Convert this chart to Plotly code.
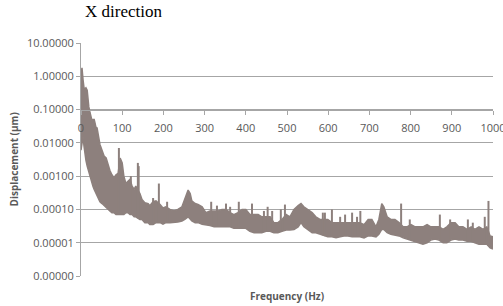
import numpy as np
import plotly.graph_objects as go

# Frequency grid (Hz) with upper / lower edges of the displacement band (µm)
freq = [0, 2.4, 4.9, 7.3, 9.7, 12, 15, 17, 19, 22, 24, 27, 29, 32, 34, 36, 39, 41, 44, 46,
        51, 56, 61, 66, 70, 75, 80, 85, 90, 95, 100, 104, 109, 114, 119, 124, 129, 133, 143, 148,
        155, 163, 167, 175, 182, 192, 199, 206, 216, 226, 235, 245, 252, 260, 265, 269, 277, 284,
        294, 303, 313, 323, 333, 342, 352, 362, 371, 381, 391, 400, 410, 420, 430, 439, 449, 459,
        468, 478, 488, 498, 507, 517, 527, 534, 541, 551, 561, 570, 580, 590, 599, 609, 619, 629,
        638, 648, 658, 667, 677, 687, 697, 706, 716, 723, 730, 735, 743, 752, 762, 772, 782, 791,
        801, 811, 820, 830, 840, 849, 859, 869, 879, 888, 898, 908, 917, 927, 937, 947, 956, 966,
        976, 985, 993, 1000]
upper = [1.2, 1.8, 0.8, 0.45, 0.42, 0.45, 0.38, 0.15, 0.12, 0.08, 0.06, 0.045, 0.05, 0.05, 0.04,
         0.03, 0.028, 0.02, 0.014, 0.009, 0.006, 0.004, 0.0035, 0.002, 0.0015, 0.0011, 0.0009,
         0.0011, 0.0012, 0.0035, 0.0025, 0.001, 0.0006, 0.0007, 0.0008, 0.0005, 0.0004, 0.0005,
         0.0003, 0.0002, 0.00016, 0.00015, 0.00013, 0.00017, 0.00018, 0.00014, 0.00011, 0.00012,
         0.0001, 0.00009, 0.0001, 0.00012, 0.0002, 0.00038, 0.0003, 0.00018, 0.00015, 0.00014,
         0.00012, 0.00008, 0.00009, 0.00009, 0.00009, 0.0001, 0.0001, 0.00008, 0.00007, 0.00008,
         0.0001, 0.0001, 0.00007, 0.00007, 0.00007, 0.00006, 0.00006, 0.00006, 0.00004, 0.00004,
         0.00005, 0.00007, 0.00006, 0.0001, 0.00013, 0.00015, 0.00012, 0.0001, 0.00008, 0.00006,
         0.00005, 0.00005, 0.00005, 0.00004, 0.00004, 0.00004, 0.00004, 0.00004, 0.00004, 0.00004,
         0.00004, 0.000035, 0.00005, 0.00005, 0.00003, 0.00005, 0.00015, 0.00012, 0.00006, 0.00005,
         0.00005, 0.00004, 0.00003, 0.00003, 0.000035, 0.00003, 0.00003, 0.00003, 0.000035, 0.00003,
         0.00003, 0.00003, 0.000025, 0.00003, 0.00004, 0.00004, 0.00003, 0.00003, 0.000025, 0.00003,
         0.000025, 0.00003, 0.000025, 0.00003, 0.000016, 0.000015]
lower = [0.006, 0.012, 0.015, 0.008, 0.004, 0.003, 0.002, 0.0016, 0.0013, 0.001, 0.0008, 0.0006,
         0.0005, 0.0004, 0.00035, 0.0003, 0.00026, 0.00023, 0.0002, 0.00017, 0.00015, 0.00013,
         0.00011, 0.0001, 0.00009, 0.00008, 0.00008, 0.00007, 0.00007, 0.00007, 0.00007, 0.00007,
         0.00008, 0.00008, 0.00007, 0.00007, 0.00006, 0.00006, 0.00005, 0.00005, 0.00004, 0.00004,
         0.000035, 0.000035, 0.00004, 0.00004, 0.000036, 0.00004, 0.00004, 0.00004, 0.000042,
         0.000045, 0.00005, 0.00006, 0.00005, 0.000045, 0.00004, 0.00004, 0.000036, 0.000035,
         0.000033, 0.00003, 0.00003, 0.00003, 0.00003, 0.00003, 0.000027, 0.000027, 0.000028,
         0.000027, 0.000022, 0.00002, 0.00002, 0.00002, 0.000022, 0.000022, 0.00002, 0.00002,
         0.000022, 0.000024, 0.000024, 0.000025, 0.00003, 0.00004, 0.00003, 0.000025, 0.00002,
         0.00002, 0.000018, 0.000016, 0.000015, 0.000015, 0.000014, 0.000015, 0.000016, 0.000016,
         0.000015, 0.000015, 0.000015, 0.000014, 0.000016, 0.000016, 0.000015, 0.000018, 0.000025,
         0.000025, 0.00002, 0.000018, 0.000017, 0.000016, 0.000014, 0.000013, 0.000012, 0.000011,
         0.00001, 0.000009, 0.00001, 0.000012, 0.000013, 0.000012, 0.00001, 0.00001, 0.000012,
         0.000013, 0.000012, 0.000012, 0.000011, 0.000011, 0.00001, 0.000009, 0.000009, 0.000009,
         0.000007, 0.0000065]

# Narrow peaks standing out of the band (Hz, µm)
spike_freq = [92, 121, 138, 140, 175, 189, 209, 316, 330, 352, 362, 383, 415, 444, 453, 464,
              485, 495, 587, 592, 609, 629, 641, 658, 670, 678, 777, 798, 871, 896, 939, 951,
              980, 989]
spike_peak = [0.007, 0.001, 0.0025, 0.002, 0.00022, 0.0006, 0.00017, 0.00017, 0.00013, 0.00015,
              0.00012, 0.00017, 0.00015, 0.00009, 0.00012, 0.00009, 0.0001, 0.00014, 0.00008,
              0.00008, 0.0001, 0.00006, 0.00007, 0.00008, 0.00006, 0.00009, 0.00015, 0.00005,
              0.00007, 0.00005, 0.00005, 0.00004, 0.00006, 0.00018]

y_tickvals = [1e-6, 1e-5, 1e-4, 1e-3, 1e-2, 1e-1, 1, 10]
y_ticktext = ["0.00000", "0.00001", "0.00010", "0.00100", "0.01000", "0.10000", "1.00000", "10.00000"]
x_tickvals = list(range(0, 1001, 100))

COLOR = "#8d807d"
AXIS = "#a6a6a6"
TXT = "#595959"

# spike base = lower band edge at that frequency
base = np.exp(np.interp(spike_freq, freq, np.log(lower)))
sx, sy = [], []
for f, b, p in zip(spike_freq, base, spike_peak):
    sx += [f, f, None]
    sy += [b, p, None]

fig = go.Figure()
fig.add_trace(go.Scatter(x=freq, y=lower, mode="lines", line=dict(color=COLOR, width=1.5),
                         hoverinfo="skip", showlegend=False))
fig.add_trace(go.Scatter(x=freq, y=upper, mode="lines", line=dict(color=COLOR, width=1.5),
                         fill="tonexty", fillcolor=COLOR, showlegend=False))
fig.add_trace(go.Scatter(x=sx, y=sy, mode="lines", line=dict(color=COLOR, width=2),
                         showlegend=False))

fig.update_layout(
    template="none",
    width=503, height=306,
    margin=dict(l=81, r=10, t=43, b=30, pad=0),
    paper_bgcolor="white", plot_bgcolor="white",
    font=dict(family="Open Sans", color=TXT),
    xaxis=dict(range=[0, 1000], showgrid=False, zeroline=False, showline=True,
               linecolor=AXIS, linewidth=1, ticks="outside", ticklen=4, tickcolor=AXIS,
               tickvals=x_tickvals, tickfont=dict(family="Open Sans", size=11, color=TXT),
               anchor="free", position=5 / 7, ticklabelstandoff=4,
               ticklabeloverflow="allow"),
    yaxis=dict(type="log", range=[-6, 1], tickvals=y_tickvals, ticktext=y_ticktext,
               showgrid=True, gridcolor=AXIS, gridwidth=1, zeroline=False, showline=True,
               linecolor=AXIS, linewidth=1, ticks="outside", ticklen=4, tickcolor=AXIS,
               tickfont=dict(family="Open Sans", size=11, color=TXT)),
    annotations=[
        dict(text="X direction", xref="paper", yref="paper", x=0.005, y=1.135,
             xanchor="left", yanchor="middle", showarrow=False,
             font=dict(family="Liberation Serif", size=17, color="#000000")),
        dict(text="<b>Displacement (µm)</b>", xref="paper", yref="paper", x=-0.165, y=0.5,
             xanchor="center", yanchor="middle", textangle=-90, showarrow=False,
             font=dict(size=10, color=TXT)),
        dict(text="<b>Frequency (Hz)</b>", xref="paper", yref="paper", x=0.5, y=-0.085,
             xanchor="center", yanchor="middle", showarrow=False,
             font=dict(size=10, color=TXT)),
    ],
)

# remove the default page margin so the figure sits at the window's top-left corner
fig.write_html("out.html", config={"displayModeBar": False, "staticPlot": True},
               post_script="document.body.style.margin='0';document.body.style.overflow='hidden';")
